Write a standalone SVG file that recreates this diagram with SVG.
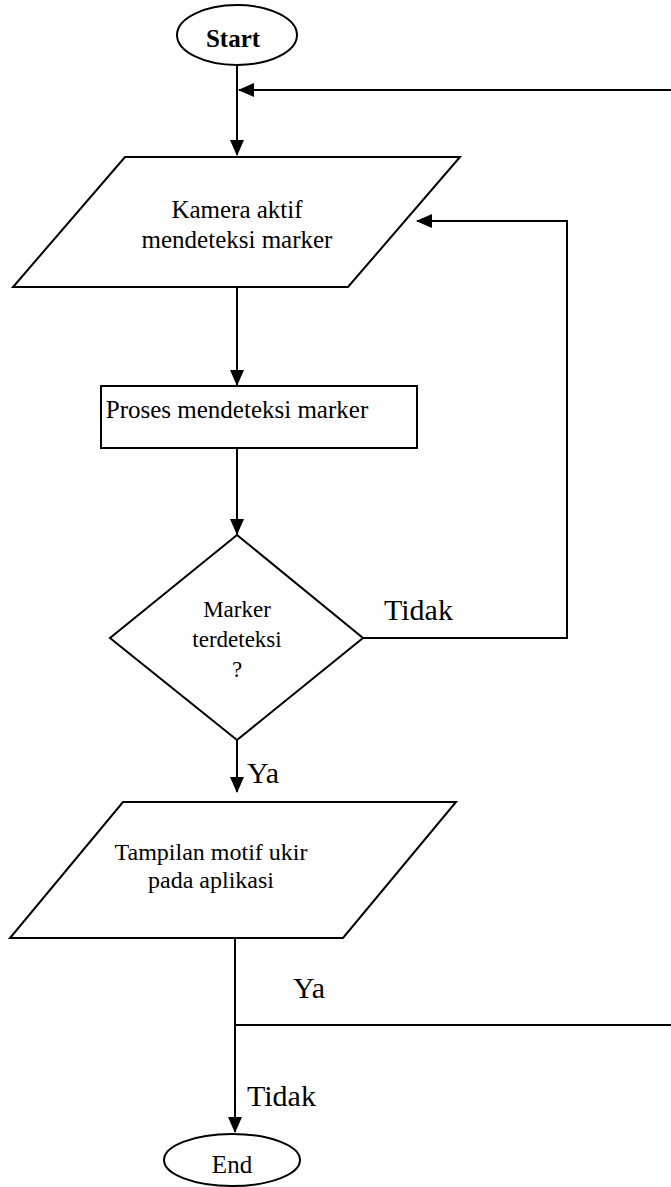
<svg xmlns="http://www.w3.org/2000/svg" width="671" height="1187" viewBox="0 0 671 1187">
<style>
.shape{fill:#fff;stroke:#000;stroke-width:2}
.line{fill:none;stroke:#000;stroke-width:2}
text{font-family:"Liberation Serif","Times New Roman",serif;fill:#000}
.t{font-size:24px;text-anchor:middle}
.lbl{font-size:30px}
</style>
<defs>
<marker id="ah" markerUnits="userSpaceOnUse" markerWidth="16" markerHeight="16" viewBox="0 0 16 16" refX="15" refY="8" orient="auto">
<path d="M0,1 L16,8 L0,15 Z" fill="#000"/>
</marker>
</defs>
<rect width="671" height="1187" fill="#fff"/>
<g id="connectors">
<path class="line" d="M237,66 L237,155" marker-end="url(#ah)"/>
<path class="line" d="M671,90 L239,90" marker-end="url(#ah)"/>
<path class="line" d="M237,288 L237,385" marker-end="url(#ah)"/>
<path class="line" d="M237,449 L237,534" marker-end="url(#ah)"/>
<path class="line" d="M363,638 L567,638 L567,221 L417,221" marker-end="url(#ah)"/>
<path class="line" d="M237,740 L237,792" marker-end="url(#ah)"/>
<path class="line" d="M235,938 L235,1132" marker-end="url(#ah)"/>
<path class="line" d="M235,1025 L671,1025"/>
<text class="lbl" x="384" y="620">Tidak</text>
<text class="lbl" x="247" y="783">Ya</text>
<text class="lbl" x="293" y="998">Ya</text>
<text class="lbl" x="247" y="1106">Tidak</text>
</g>
<g id="start">
<ellipse class="shape" cx="237" cy="35" rx="60" ry="30"/>
<text class="t" x="233" y="47" style="font-weight:bold;font-size:25px">Start</text>
</g>
<g id="input1">
<polygon class="shape" points="125,157 460,157 348,287 13,287"/>
<text class="t" x="237" y="218" style="font-size:25px">Kamera aktif</text>
<text class="t" x="237" y="248" style="font-size:25px">mendeteksi marker</text>
</g>
<g id="process">
<rect class="shape" x="101" y="386" width="316" height="62"/>
<text class="t" x="237" y="418" style="font-size:25px">Proses mendeteksi marker</text>
</g>
<g id="decision">
<polygon class="shape" points="237,535 363,638 237,740 110,638"/>
<text class="t" x="237" y="617" style="font-size:23px">Marker</text>
<text class="t" x="237" y="647" style="font-size:23px">terdeteksi</text>
<text class="t" x="237" y="677" style="font-size:23px">?</text>
</g>
<g id="output">
<polygon class="shape" points="123,802 456,802 343,938 10,938"/>
<text class="t" x="211" y="860" style="font-size:24px">Tampilan motif ukir</text>
<text class="t" x="211" y="888" style="font-size:24px">pada aplikasi</text>
</g>
<g id="end">
<ellipse class="shape" cx="232" cy="1160" rx="68" ry="26"/>
<text class="t" x="232" y="1173" style="font-size:25px">End</text>
</g>
</svg>
